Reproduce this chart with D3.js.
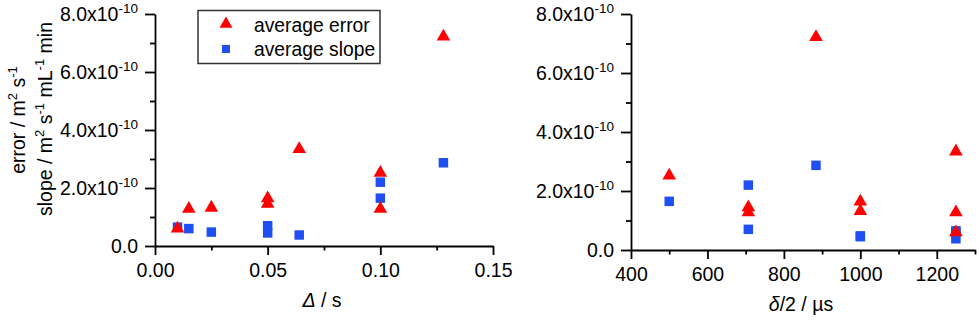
<!DOCTYPE html>
<html>
<head>
<meta charset="utf-8">
<script src="https://cdn.jsdelivr.net/npm/d3@7"></script>
<style>
  body { margin: 0; background: #fff; }
  svg { font-family: "Liberation Sans", Arial, sans-serif; }
</style>
</head>
<body>
<svg id="chart" width="980" height="320"></svg>
<script>
// one entry per experiment: Δ (s), δ/2 (µs), average error and slope (m² s⁻¹ ...)
const delta = [0.128, 0.064, 0.10, 0.10, 0.05, 0.05, 0.025, 0.015, 0.01];
const halfDelta = [884, 1250, 500, 707, 1000, 707, 1000, 1250, 1250];
const avgError = [7.22e-10, 3.34e-10, 2.52e-10, 1.28e-10, 1.64e-10, 1.45e-10, 1.32e-10, 1.28e-10, 0.60e-10];
const avgSlope = [2.87e-10, 0.38e-10, 1.65e-10, 2.20e-10, 0.45e-10, 0.70e-10, 0.48e-10, 0.60e-10, 0.65e-10];

const yTicks = [0, 2e-10, 4e-10, 6e-10, 8e-10];
const yMinor = [1e-10, 3e-10, 5e-10, 7e-10];
const xTicksLeft = [0, 0.05, 0.10, 0.15];
const xMinorLeft = [0.025, 0.075, 0.125];
const xTicksRight = [400, 600, 800, 1000, 1200];
const xMinorRight = [500, 700, 900, 1100, 1300];
const legendLabels = ["average error", "average slope"];

const svg = d3.select("#chart");
const red = "#ff0000", blue = "#1f4ff2";
const fs = 19.5;

// writes text made of parts, some of them superscript
function richText(sel, parts) {
  parts.forEach(p => {
    const t = sel.append("tspan").text(p.t);
    if (p.it) t.attr("font-style", "italic");
    if (p.sup) t.attr("font-size", 13).attr("dy", -8);
    if (p.back) t.attr("dy", 8);
  });
}

function panel(xs, xDomain, xRange, yRange, xTicks, xMinor, xFmt, title) {
  const x = d3.scaleLinear().domain(xDomain).range(xRange);
  const y = d3.scaleLinear().domain([0, 8e-10]).range(yRange);
  const g = svg.append("g");

  // y axis
  const ya = g.append("g").attr("transform", `translate(${xRange[0]},0)`)
    .call(d3.axisLeft(y).tickValues(yTicks).tickSize(10).tickPadding(7).tickSizeOuter(0));
  ya.selectAll(".tick text").each(function (d) {
    const t = d3.select(this).text(null).attr("font-size", fs).attr("font-family", null);
    if (d === 0) { t.text("0.0"); return; }
    t.append("tspan").text((d / 1e-10).toFixed(1) + "x10");
    t.append("tspan").attr("font-size", 13.5).attr("dy", -8).text("-10");
  });
  g.append("g").attr("transform", `translate(${xRange[0]},0)`)
    .call(d3.axisLeft(y).tickValues(yMinor).tickSize(5).tickFormat("").tickSizeOuter(0))
    .select(".domain").remove();

  // x axis
  const xa = g.append("g").attr("transform", `translate(0,${yRange[0]})`)
    .call(d3.axisBottom(x).tickValues(xTicks).tickSize(9).tickPadding(8.5).tickFormat(xFmt).tickSizeOuter(0));
  xa.selectAll(".tick text").attr("font-size", fs).attr("font-family", null);
  g.append("g").attr("transform", `translate(0,${yRange[0]})`)
    .call(d3.axisBottom(x).tickValues(xMinor).tickSize(4.5).tickFormat("").tickSizeOuter(0))
    .select(".domain").remove();

  g.selectAll(".domain, .tick line").attr("stroke", "#000").attr("stroke-width", 1.8);

  // markers: squares under triangles
  g.selectAll(".sq").data(xs.map((v, i) => [v, avgSlope[i]])).join("path")
    .attr("d", d3.symbol(d3.symbolSquare, 90))
    .attr("transform", d => `translate(${x(d[0])},${y(d[1])})`)
    .attr("fill", blue);
  g.selectAll(".tri").data(xs.map((v, i) => [v, avgError[i]])).join("path")
    .attr("d", d3.symbol(d3.symbolTriangle, 80))
    .attr("transform", d => `translate(${x(d[0])},${y(d[1])})`)
    .attr("fill", red);

  const tt = g.append("text").attr("x", (xRange[0] + xRange[1]) / 2 - 2)
    .attr("y", yRange[0] + 61).attr("text-anchor", "middle").attr("font-size", fs);
  richText(tt, title);
  return { x, y };
}

panel(delta, [0, 0.15], [155, 493], [246, 14], xTicksLeft, xMinorLeft, d3.format(".2f"),
  [{ t: "Δ", it: true }, { t: " / s" }]);
panel(halfDelta, [400, 1300], [631, 975], [250, 14], xTicksRight, xMinorRight, d3.format("d"),
  [{ t: "δ", it: true }, { t: "/2 / µs" }]);

// y titles (left panel)
const t1 = svg.append("text").attr("transform", "translate(25,120) rotate(-90)")
  .attr("text-anchor", "middle").attr("font-size", fs);
richText(t1, [{ t: "error / m" }, { t: "2", sup: true }, { t: " s", back: true }, { t: "-1", sup: true }]);
const t2 = svg.append("text").attr("transform", "translate(52,119) rotate(-90)")
  .attr("text-anchor", "middle").attr("font-size", fs);
richText(t2, [{ t: "slope / m" }, { t: "2", sup: true }, { t: " s", back: true }, { t: "-1", sup: true },
  { t: " mL", back: true }, { t: "-1", sup: true }, { t: " min", back: true }]);

// legend
const lg = svg.append("g");
lg.append("rect").attr("x", 198).attr("y", 10.5).attr("width", 182).attr("height", 53)
  .attr("fill", "#fff").attr("stroke", "#333").attr("stroke-width", 1.5);
const legendSym = [d3.symbolTriangle, d3.symbolSquare];
const legendSize = [72, 64];
const legendCol = [red, blue];
legendLabels.forEach((lab, i) => {
  lg.append("path").attr("d", d3.symbol(legendSym[i], legendSize[i]))
    .attr("transform", `translate(226,${24 + i * 25})`).attr("fill", legendCol[i]);
  lg.append("text").attr("x", 254).attr("y", 31.7 + i * 24).attr("font-size", 19.3).text(lab);
});
</script>
</body>
</html>
